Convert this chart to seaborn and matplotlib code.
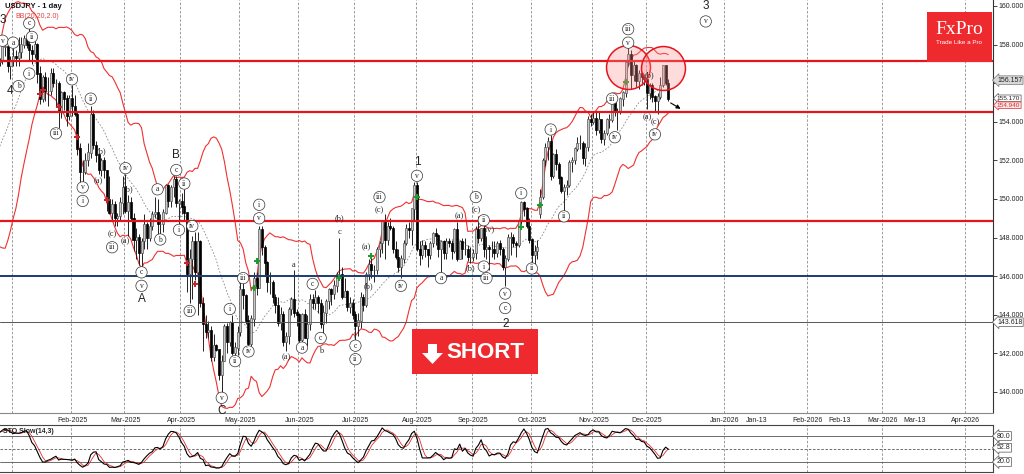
import numpy as np
import pandas as pd
import matplotlib
matplotlib.use("Agg")
import matplotlib.pyplot as plt
from matplotlib.patches import Rectangle, Polygon
from matplotlib.transforms import blended_transform_factory
import seaborn as sns

# daily bars: weekdays from 2024-11-27 to 2025-12-11 (no bar on Dec-25 / Jan-01)
holidays = ["2024-12-25", "2025-01-01"]
dates = pd.bdate_range("2024-11-27", "2025-12-11")
dates = dates[~dates.isin(pd.to_datetime(holidays))]

open_ = [
    153.0, 151.1, 151.6,
    149.8, 149.6, 149.6, 150.6, 150.1, 150.0, 151.2, 151.9, 152.5, 152.6, 153.7, 154.1, 153.5, 154.7, 157.4, 156.4, 157.1, 157.2, 157.9, 157.9, 156.9,
    157.2, 157.4, 157.3, 157.6, 158.0, 158.3, 158.0, 157.7, 157.5, 158.0, 156.5, 155.2, 156.3, 155.6, 155.6, 156.5, 156.0, 156.0, 154.5, 155.5, 155.2, 154.3,
    155.2, 154.8, 154.4, 152.6, 151.4, 151.4, 152.0, 152.4, 154.4, 152.8, 152.3, 151.5, 152.0, 151.5, 150.0, 149.3, 149.7, 149.0, 149.1, 149.8,
    150.6, 149.4, 149.8, 149.0, 147.9, 148.0, 147.2, 147.8, 148.7, 148.0, 148.6, 149.2, 149.3, 148.7, 148.7, 149.3, 150.7, 149.9, 150.6, 151.0, 149.8,
    149.9, 149.6, 149.3, 146.1, 146.9, 147.8, 146.2, 147.8, 144.6, 143.5, 143.1, 143.2, 141.8, 142.4, 142.2, 140.9, 141.6, 143.4, 142.6, 143.6, 142.0, 142.3,
    143.1, 145.3, 145.0, 143.7, 142.5, 143.8, 145.9, 145.4, 148.4, 147.5, 146.7, 145.7, 145.7, 144.9, 144.5, 143.6, 144.0, 142.6, 142.9, 144.3, 144.8, 144.1,
    144.0, 142.7, 144.0, 142.8, 143.5, 144.8, 144.6, 144.9, 144.6, 143.5, 144.1, 144.7, 145.3, 145.1, 145.5, 146.1, 146.1, 144.9, 145.2, 144.4, 144.6,
    144.0, 143.4, 143.7, 144.9, 144.5, 146.1, 146.6, 146.3, 146.3, 147.4, 147.7, 148.9, 147.9, 148.6, 148.5, 147.4, 147.0, 146.5, 146.9, 147.7, 148.5, 148.4, 149.5,
    150.7, 147.4, 147.1, 147.6, 147.4, 147.1, 147.7, 148.2, 148.1, 147.4, 147.8, 147.2, 147.8, 147.7, 147.3, 148.4, 146.9, 147.8, 147.4, 147.4, 147.0,
    147.0, 147.2, 148.4, 148.0, 148.5, 147.4, 147.5, 147.4, 147.4, 147.2, 147.7, 147.4, 146.5, 146.9, 148.0, 148.0, 147.7, 147.6, 148.9, 149.8, 149.5, 148.6,
    147.9, 147.1, 147.3, 149.2, 150.1, 152.0, 152.7, 153.0, 151.2, 152.3, 151.8, 151.1, 150.4, 150.6, 150.7, 151.9, 152.0, 152.6, 152.9, 152.9, 152.1, 152.7, 154.1,
    154.0, 154.2, 153.6, 154.1, 153.1, 153.4, 154.1, 154.1, 155.0, 154.5, 154.5, 155.2, 155.5, 157.1, 157.5, 156.4, 156.9, 156.1, 156.5, 156.3,
    156.2, 155.5, 155.9, 155.3, 155.1, 155.3, 155.9, 156.9, 156.0,
]
high = [
    153.1, 151.9, 151.9,
    150.7, 150.0, 151.2, 150.9, 150.5, 151.3, 152.0, 152.8, 153.1, 153.9, 154.4, 154.2, 155.0, 157.9, 157.9, 157.3, 157.3, 158.0, 158.1, 158.0, 157.4,
    157.8, 157.7, 158.4, 158.4, 158.5, 158.4, 158.9, 158.0, 158.2, 158.1, 156.9, 156.4, 156.6, 156.3, 156.8, 156.8, 156.2, 156.1, 155.6, 155.6, 155.4, 155.4,
    155.9, 155.4, 154.5, 152.9, 152.0, 152.4, 152.9, 154.8, 154.6, 153.0, 152.4, 152.1, 152.2, 151.5, 151.2, 150.0, 149.9, 149.3, 150.1, 151.2,
    151.3, 150.2, 150.1, 149.3, 148.5, 148.2, 148.0, 149.2, 148.8, 149.0, 149.4, 150.1, 150.0, 149.2, 149.5, 150.8, 150.8, 150.7, 151.2, 151.2, 150.0,
    150.3, 150.5, 149.3, 147.4, 148.1, 148.3, 148.3, 147.9, 144.9, 144.0, 143.7, 143.4, 143.0, 142.5, 142.2, 141.9, 143.5, 143.6, 143.7, 144.0, 142.6, 143.4,
    145.9, 146.0, 145.1, 144.0, 144.0, 146.2, 146.2, 148.6, 148.6, 147.6, 146.8, 146.2, 145.8, 145.1, 144.9, 144.4, 144.2, 143.1, 144.4, 144.9, 146.3, 144.3,
    144.1, 144.1, 144.3, 144.0, 145.1, 145.1, 145.3, 145.0, 144.8, 144.5, 144.8, 145.4, 145.4, 145.8, 146.2, 148.0, 146.5, 145.9, 145.3, 144.9, 144.8,
    144.2, 144.1, 145.2, 145.1, 146.2, 146.9, 147.2, 146.6, 147.5, 147.8, 148.9, 149.2, 148.8, 149.0, 148.6, 147.8, 147.4, 147.1, 147.9, 148.7, 148.8, 149.5, 150.9,
    150.9, 147.8, 147.9, 147.8, 147.4, 147.8, 148.3, 148.5, 148.2, 147.9, 147.9, 148.0, 148.0, 147.9, 148.5, 148.8, 147.9, 148.0, 148.0, 147.6, 147.5,
    147.4, 148.6, 149.1, 148.5, 148.8, 148.1, 147.6, 147.8, 147.8, 147.8, 147.9, 147.5, 147.1, 148.2, 148.3, 148.2, 147.8, 148.9, 149.9, 149.9, 149.6, 149.0,
    148.0, 147.6, 147.9, 150.5, 152.1, 152.9, 153.2, 153.3, 152.4, 152.6, 151.9, 151.2, 150.8, 151.0, 152.0, 152.2, 152.7, 153.2, 153.3, 153.0, 152.9, 154.3, 154.4,
    154.5, 154.5, 154.5, 154.1, 153.6, 154.2, 154.4, 155.0, 155.1, 154.7, 155.3, 155.6, 157.2, 157.9, 157.7, 157.2, 157.0, 156.7, 156.6, 156.5,
    156.2, 156.0, 156.0, 155.4, 155.5, 156.3, 156.95, 156.95, 156.2,
]
low = [
    150.5, 151.0, 149.5,
    149.6, 149.1, 149.5, 149.9, 149.4, 149.7, 151.0, 151.6, 152.2, 152.5, 153.6, 153.2, 153.3, 154.4, 156.0, 156.2, 156.9, 157.0, 157.4, 156.6, 156.2,
    156.9, 156.9, 156.9, 157.3, 157.8, 157.8, 157.2, 157.0, 157.3, 156.0, 154.9, 155.0, 155.1, 154.8, 155.4, 155.8, 154.8, 153.7, 154.2, 154.6, 153.8, 154.1,
    154.3, 154.3, 152.3, 150.9, 150.9, 151.3, 151.7, 152.1, 152.6, 151.9, 151.3, 151.2, 151.1, 149.4, 149.2, 148.9, 148.6, 148.6, 148.9, 149.2,
    149.3, 148.1, 148.9, 147.3, 146.9, 146.6, 146.5, 147.4, 147.4, 147.8, 148.4, 149.0, 148.2, 148.2, 148.3, 149.2, 149.6, 149.6, 150.1, 149.6, 148.7,
    149.2, 148.9, 145.2, 144.6, 144.8, 145.8, 144.0, 144.4, 142.1, 142.8, 142.8, 141.6, 141.6, 142.1, 140.6, 139.9, 141.6, 142.0, 142.4, 141.9, 141.7, 141.9,
    142.9, 144.3, 143.5, 142.4, 142.4, 143.4, 145.0, 145.4, 147.1, 146.0, 145.2, 145.1, 144.6, 144.1, 143.4, 143.2, 142.4, 142.1, 142.5, 144.0, 143.9, 143.4,
    142.6, 142.4, 142.8, 142.4, 143.2, 144.3, 144.3, 144.1, 143.3, 142.8, 143.6, 144.3, 144.5, 144.8, 145.2, 146.0, 144.8, 144.9, 144.2, 144.1, 143.8,
    142.7, 142.9, 143.3, 144.2, 144.4, 145.8, 145.9, 145.7, 146.1, 147.0, 147.2, 146.9, 147.6, 148.4, 147.2, 146.9, 146.2, 145.9, 146.7, 147.6, 148.0, 147.6, 148.9,
    147.3, 146.6, 146.9, 147.0, 146.5, 146.9, 147.5, 147.6, 147.0, 146.2, 146.9, 146.9, 147.5, 146.9, 147.2, 146.8, 146.9, 146.9, 147.1, 146.8, 146.7,
    146.8, 146.9, 147.7, 147.8, 147.0, 146.9, 146.3, 147.0, 146.9, 147.0, 147.1, 146.3, 145.5, 146.8, 147.1, 147.5, 147.0, 147.5, 148.7, 149.1, 148.5, 147.7,
    146.6, 146.6, 146.9, 149.0, 150.0, 151.7, 152.0, 151.0, 151.1, 151.5, 150.8, 150.3, 149.4, 150.2, 150.6, 151.4, 151.8, 152.5, 152.6, 151.8, 151.7, 152.5, 153.8,
    153.9, 153.3, 153.4, 152.9, 152.8, 153.3, 153.7, 154.0, 154.3, 153.6, 154.4, 154.8, 155.3, 156.9, 155.7, 156.1, 155.8, 155.7, 155.9, 155.9,
    154.65, 155.2, 155.0, 154.5, 154.4, 155.2, 155.8, 155.9, 155.1,
]
close = [
    151.1, 151.6, 149.8,
    149.6, 149.6, 150.6, 150.1, 150.0, 151.2, 151.9, 152.5, 152.6, 153.7, 154.1, 153.5, 154.7, 157.4, 156.4, 157.1, 157.2, 157.9, 157.9, 156.9, 157.2,
    157.4, 157.3, 157.6, 158.0, 158.3, 158.0, 157.7, 157.5, 158.0, 156.5, 155.2, 156.3, 155.6, 155.6, 156.5, 156.0, 156.0, 154.5, 155.5, 155.2, 154.3, 155.2,
    154.8, 154.4, 152.6, 151.4, 151.4, 152.0, 152.4, 154.4, 152.8, 152.3, 151.5, 152.0, 151.5, 150.0, 149.3, 149.7, 149.0, 149.1, 149.8, 150.6,
    149.4, 149.8, 149.0, 147.9, 148.0, 147.2, 147.8, 148.7, 148.0, 148.6, 149.2, 149.3, 148.7, 148.7, 149.3, 150.7, 149.9, 150.6, 151.0, 149.8, 149.9,
    149.6, 149.3, 146.1, 146.9, 147.8, 146.2, 147.8, 144.6, 143.5, 143.1, 143.2, 141.8, 142.4, 142.2, 140.9, 141.6, 143.4, 142.6, 143.6, 142.0, 142.3, 143.1,
    145.3, 145.0, 143.7, 142.5, 143.8, 145.9, 145.4, 148.4, 147.5, 146.7, 145.7, 145.7, 144.9, 144.5, 143.6, 144.0, 142.6, 142.9, 144.3, 144.8, 144.1, 144.0,
    142.7, 144.0, 142.8, 143.5, 144.8, 144.6, 144.9, 144.6, 143.5, 144.1, 144.7, 145.3, 145.1, 145.5, 146.1, 146.1, 144.9, 145.2, 144.4, 144.6, 144.0,
    143.4, 143.7, 144.9, 144.5, 146.1, 146.6, 146.3, 146.3, 147.4, 147.7, 148.9, 147.9, 148.6, 148.5, 147.4, 147.0, 146.5, 146.9, 147.7, 148.5, 148.4, 149.5, 150.7,
    147.4, 147.1, 147.6, 147.4, 147.1, 147.7, 148.2, 148.1, 147.4, 147.8, 147.2, 147.8, 147.7, 147.3, 148.4, 146.9, 147.8, 147.4, 147.4, 147.0, 147.0,
    147.2, 148.4, 148.0, 148.5, 147.4, 147.5, 147.4, 147.4, 147.2, 147.7, 147.4, 146.5, 146.9, 148.0, 148.0, 147.7, 147.6, 148.9, 149.8, 149.5, 148.6, 147.9,
    147.1, 147.3, 147.5, 150.1, 152.0, 152.7, 153.0, 151.2, 152.3, 151.8, 151.1, 150.4, 150.6, 150.7, 151.9, 152.0, 152.6, 152.9, 152.9, 152.1, 152.7, 154.1, 154.0,
    154.2, 153.6, 154.1, 153.1, 153.4, 154.1, 154.1, 155.0, 154.5, 154.5, 155.2, 155.5, 157.1, 157.5, 156.4, 156.9, 156.1, 156.5, 156.3, 156.2,
    155.5, 155.9, 155.3, 155.1, 155.3, 155.9, 156.9, 156.0, 155.2,
]

# drawn levels
red_levels = [157.15, 154.5, 148.85]
blue_level = 146.0
grey_level = 143.618
price_ticks = [140, 142, 144, 146, 148, 150, 152, 154, 156, 158, 160]

# price tags on the right scale (value, where the tag sits)
tag_values = [156.157, 155.170, 154.940, 143.618]
tag_spots = [156.157, 155.22, 154.86, 143.618]
stoch_tags = [80.0, 52.8, 20.0]

# band-break signal marks
sell_dates = ["2025-01-16", "2025-01-17", "2025-01-27", "2025-02-05", "2025-02-20", "2025-04-03", "2025-04-08"]
sell_prices = [155.45, 155.65, 154.75, 153.2, 149.95, 146.7, 145.6]
buy_dates = ["2025-05-08", "2025-05-09", "2025-06-23", "2025-07-09", "2025-08-01", "2025-09-25", "2025-10-06", "2025-11-19"]
buy_prices = [145.4, 146.8, 145.9, 147.05, 150.1, 148.55, 149.7, 156.05]

# Elliott wave labels: text, date, price, kind (c = circled, p = plain, B = big)
wave_text = ["3", "v", "a", "c", "ii", "i", "b", "4", "iii", "iv", "v", "i", "ii", "(b)", "(a)",
             "iv", "(b)", "(c)", "iii", "(a)", "c", "v", "A", "a", "b", "B", "c", "ii", "i", "iv",
             "iii", "v", "C", "i", "ii", "iii", "iv", "i", "v", "a", "(a)", "a", "c", "c", "b",
             "c", "(b)", "c", "ii", "(a)", "(b)", "(c)", "iii", "iv", "1", "v", "(a)", "a", "(b)",
             "b", "(c)", "ii", "(iv)", "i", "iii", "v", "c", "2", "i", "ii", "i", "ii", "iii", "iv",
             "iii", "v", "(a)", "(b)", "(c)", "iv", "3", "v"]
wave_date = ["2024-12-26", "2024-12-26", "2025-01-02", "2025-01-10", "2025-01-13", "2025-01-10",
             "2025-01-06", "2024-12-31", "2025-01-24", "2025-02-03", "2025-02-07", "2025-02-07",
             "2025-02-12", "2025-02-18", "2025-02-17", "2025-03-03", "2025-03-04", "2025-02-24",
             "2025-02-24", "2025-03-03", "2025-03-11", "2025-03-11", "2025-03-11", "2025-03-19",
             "2025-03-20", "2025-03-28", "2025-03-28", "2025-04-02", "2025-03-31", "2025-04-07",
             "2025-04-04", "2025-04-22", "2025-04-22", "2025-04-25", "2025-04-29", "2025-05-02",
             "2025-05-06", "2025-05-12", "2025-05-12", "2025-05-29", "2025-05-26", "2025-06-03",
             "2025-06-09", "2025-06-12", "2025-06-12", "2025-06-23", "2025-06-23", "2025-07-01",
             "2025-07-01", "2025-07-07", "2025-07-08", "2025-07-14", "2025-07-14", "2025-07-24",
             "2025-08-01", "2025-08-01", "2025-08-25", "2025-08-14", "2025-08-29", "2025-09-02",
             "2025-09-02", "2025-09-05", "2025-09-09", "2025-09-05", "2025-09-08", "2025-09-17",
             "2025-09-17", "2025-09-17", "2025-09-25", "2025-10-01", "2025-10-10", "2025-10-17",
             "2025-11-12", "2025-11-13", "2025-11-20", "2025-11-20", "2025-12-01", "2025-12-02",
             "2025-12-04", "2025-12-04", "2025-12-25", "2025-12-25"]
wave_price = [159.3, 158.2, 158.1, 159.1, 158.4, 156.5, 155.85, 155.6, 153.4, 156.2, 150.6, 149.9,
              155.2, 152.5, 150.9, 151.6, 150.5, 148.2, 147.5, 147.8, 146.2, 145.5, 144.8, 150.5,
              147.9, 152.3, 151.5, 150.8, 148.4, 148.6, 144.2, 139.7, 139.0, 144.3, 141.6, 145.9,
              142.1, 149.7, 149.0, 146.6, 141.8, 142.3, 145.6, 142.8, 142.1, 148.3, 149.0, 142.4,
              141.7, 147.5, 145.5, 149.4, 150.1, 145.5, 151.9, 151.2, 149.1, 145.9, 146.4, 150.1,
              149.4, 148.9, 148.45, 146.5, 145.9, 145.1, 144.35, 143.5, 150.3, 146.4, 153.6, 149.1,
              155.2, 153.2, 158.8, 158.1, 154.25, 156.4, 154.0, 153.35, 160.0, 159.2]
wave_kind = ["B", "c", "c", "c", "c", "c", "c", "B", "c", "c", "c", "c", "c", "p", "p",
             "c", "p", "p", "c", "p", "c", "c", "B", "c", "c", "B", "c", "c", "c", "c",
             "c", "c", "B", "c", "c", "c", "c", "c", "c", "p", "p", "c", "c", "c", "p",
             "p", "p", "c", "c", "p", "p", "p", "c", "c", "B", "c", "p", "c", "p",
             "c", "p", "c", "p", "c", "c", "c", "c", "B", "c", "c", "c", "c", "c", "c",
             "c", "c", "p", "p", "p", "c", "B", "c"]

# highlighted zones (red circles)
zone_dates = ["2025-11-20", "2025-12-09"]
zone_prices = [156.85, 156.8]

month_labels = ["Feb-2025", "Mar-2025", "Apr-2025", "May-2025", "Jun-2025", "Jul-2025", "Aug-2025",
                "Sep-2025", "Oct-2025", "Nov-2025", "Dec-2025", "Jan-2026", "Jan-13", "Feb-2026",
                "Feb-13", "Mar-2026", "Mar-13", "Apr-2026"]
month_dates = ["2025-02-01", "2025-03-01", "2025-04-01", "2025-05-01", "2025-06-01", "2025-07-01",
               "2025-08-01", "2025-09-01", "2025-10-01", "2025-11-01", "2025-12-01", "2026-01-01",
               "2026-01-13", "2026-02-01", "2026-02-13", "2026-03-01", "2026-03-13", "2026-04-01"]
grid_dates = ["2025-01-01", "2025-02-01", "2025-03-01", "2025-04-01", "2025-05-01", "2025-06-01",
              "2025-07-01", "2025-08-01", "2025-09-01", "2025-10-01", "2025-11-01", "2025-12-01",
              "2026-01-01", "2026-02-01", "2026-03-01", "2026-04-01"]

sns.set_theme(style="white")
plt.rcParams['font.family'] = ['Liberation Sans', 'DejaVu Sans']

n = min(len(dates), len(open_), len(high), len(low), len(close))
df = pd.DataFrame({"o": open_[:n], "h": high[:n], "l": low[:n], "c": close[:n]})
df["x"] = np.arange(n)
last_date = dates[n - 1]
last_idx = n - 1


def xpos(d):
    d = pd.Timestamp(d)
    if d <= last_date:
        return float(dates[:n].searchsorted(d))
    return last_idx + (d - last_date).days


# indicators
df["mid"] = df["c"].rolling(20).mean()
sd = df["c"].rolling(20).std(ddof=0)
df["up"] = df["mid"] + 2 * sd
df["dn"] = df["mid"] - 2 * sd
ll = df["l"].rolling(14).min()
hh = df["h"].rolling(14).max()
fast_k = 100 * (df["c"] - ll) / (hh - ll)
df["k"] = fast_k.rolling(3).mean()
df["d"] = df["k"].rolling(3).mean()

W, H = 1024, 474
fig = plt.figure(figsize=(W / 100, H / 100), dpi=100)
fig.patch.set_facecolor("white")
ax = fig.add_axes([0, 1 - 413 / H, 993 / W, 413 / H])
ax2 = fig.add_axes([0, 1 - 472 / H, 993 / W, 47 / H])

px_bar = 2.674
i_feb = xpos("2025-02-03")
x0 = i_feb - 72 / px_bar
x1 = i_feb + (993 - 72) / px_bar
for a in (ax, ax2):
    a.set_xlim(x0, x1)
    a.set_facecolor("white")
ax.set_ylim(160 - 407 / 19.3, 160 + 6 / 19.3)
ax2.set_ylim(-3.1, 105.4)

# month grid
for gd in grid_dates:
    gx = xpos(gd) - 0.5 if pd.Timestamp(gd) <= last_date else xpos(gd)
    for a in (ax, ax2):
        a.axvline(gx, color="#8c8c8c", lw=0.6, ls=(0, (3, 2)), zorder=1)

# bollinger bands
sns.lineplot(data=df, x="x", y="up", ax=ax, color="#f03030", lw=0.8, zorder=2)
sns.lineplot(data=df, x="x", y="dn", ax=ax, color="#f03030", lw=0.8, zorder=2)
sns.lineplot(data=df, x="x", y="mid", ax=ax, color="#888888", lw=0.6, linestyle=(0, (2, 2)), zorder=2)

# candles
rise = df["c"] >= df["o"]
ax.vlines(df["x"], df["l"], df["h"], color="#222222", lw=0.7, zorder=3)
ax.bar(df["x"][rise], (df["c"] - df["o"])[rise] + 0.02, bottom=df["o"][rise], width=0.75,
       color="#c8c8c8", edgecolor="#555555", linewidth=0.5, zorder=4)
ax.bar(df["x"][~rise], (df["o"] - df["c"])[~rise] + 0.02, bottom=df["c"][~rise], width=0.75,
       color="black", edgecolor="black", linewidth=0.5, zorder=4)

# signal marks
ax.scatter([xpos(d) for d in sell_dates], sell_prices, marker="P", s=14, color="#c0282c",
           linewidths=0, zorder=6)
ax.scatter([xpos(d) for d in buy_dates], buy_prices, marker="P", s=14, color="#1e9a2e",
           linewidths=0, zorder=6)

# levels
for lv in red_levels:
    ax.axhline(lv, color="#e8141c", lw=1.6, zorder=5)
ax.axhline(blue_level, color="#1b3c6e", lw=1.4, zorder=5)
ax.axhline(grey_level, color="#555555", lw=0.7, zorder=5)

# highlighted zones
zx = [xpos(d) for d in zone_dates]
ax.scatter(zx, zone_prices, s=1000, facecolor=(1, 0.55, 0.55, 0.3), edgecolor="#e8141c",
           linewidth=1.1, zorder=6)

# projection arrow
ax.annotate("", xy=(last_idx + 5.5, 154.6), xytext=(last_idx, 155.05),
            arrowprops=dict(arrowstyle="-|>", color="black", lw=0.8, mutation_scale=6), zorder=7)

# wave labels
for t, d, p, k in zip(wave_text, wave_date, wave_price, wave_kind):
    xx = xpos(d)
    if k == "c":
        ax.text(xx, p, t, fontsize=5.5, family="Liberation Serif", ha="center", va="center",
                zorder=8, bbox=dict(boxstyle="circle,pad=0.22", fc="white", ec="#333333", lw=0.5))
    elif k == "p":
        ax.text(xx, p, t, fontsize=6, family="Liberation Serif", ha="center", va="center", zorder=8)
    else:
        ax.text(xx, p, t, fontsize=8.5, ha="center", va="center", color="#222222", zorder=8)

# right price axis (the 156 label sits under the price tag)
ax.yaxis.tick_right()
ax.set_yticks(price_ticks)
ax.set_yticklabels(["" if v == 156 else f"{v:.3f}" for v in price_ticks])
ax.tick_params(axis="y", labelsize=5, length=3, width=0.6, pad=1, colors="#222222")
ax.set_xticks([xpos(d) for d in month_dates])
ax.set_xticklabels(month_labels)
ax.tick_params(axis="x", labelsize=5, length=2, width=0.6, pad=1, colors="#222222")
ax.set_xlabel("")
ax.set_ylabel("")
for s in ["left", "top"]:
    ax.spines[s].set_visible(False)
ax.spines["right"].set_color("#333333")
ax.spines["bottom"].set_color("#888888")
for s in ax.spines.values():
    s.set_linewidth(0.8)

tr = blended_transform_factory(ax.transAxes, ax.transData)
tag_styles = [("#d8d8d8", "#222222", "#777777", 5), ("white", "#222222", "#555555", 4.6),
              ("#fde3e3", "#d03030", "#d03030", 4.6), ("white", "#222222", "#555555", 5)]
for v, spot, (fc, tc, ec, fs) in zip(tag_values, tag_spots, tag_styles):
    ax.text(1.004, spot, f"{v:.3f}", transform=tr, fontsize=fs, color=tc, va="center", ha="left",
            clip_on=False, zorder=9,
            bbox=dict(boxstyle="larrow,pad=0.12", fc=fc, ec=ec, lw=0.5))

# stochastic panel
sns.lineplot(data=df, x="x", y="d", ax=ax2, color="#e03030", lw=0.6, zorder=3)
sns.lineplot(data=df, x="x", y="k", ax=ax2, color="black", lw=0.8, zorder=4)
ax2.axhline(80, color="#555555", lw=0.6, zorder=2)
ax2.axhline(20, color="#555555", lw=0.6, zorder=2)
ax2.axhline(50, color="#555555", lw=0.6, ls=(0, (3, 2)), zorder=2)
ax2.set_xticks([])
ax2.yaxis.tick_right()
ax2.set_yticks([20, 80])
ax2.set_yticklabels(["", ""])
ax2.tick_params(axis="y", length=3, width=0.6, colors="#222222")
ax2.set_xlabel("")
ax2.set_ylabel("")
ax2.spines["left"].set_visible(False)
for s in ["top", "bottom", "right"]:
    ax2.spines[s].set_color("#444444")
    ax2.spines[s].set_linewidth(0.8)
tr2 = blended_transform_factory(ax2.transAxes, ax2.transData)
for v in stoch_tags:
    ax2.text(1.004, v, f"{v:.1f}", transform=tr2, fontsize=5, va="center", ha="left", clip_on=False,
             zorder=9, bbox=dict(boxstyle="larrow,pad=0.12", fc="white", ec="#555555", lw=0.5))
ax2.text(0.003, 0.86, "STO Slow(14,3)", transform=ax2.transAxes, fontsize=5, fontweight="bold",
         va="center", ha="left")

# header texts
fig.text(5 / W, 1 - 7 / H, "USDJPY - 1 day", fontsize=5.5, fontweight="bold", va="center",
         ha="left", color="#111111")
fig.text(15 / W, 1 - 16 / H, "BB(20,20,2.0)", fontsize=5, va="center", ha="left", color="#e04040")

# FxPro badge
fig.patches.append(Rectangle((927 / W, 1 - 62 / H), 65 / W, 50 / H, transform=fig.transFigure,
                             fc="#ee2a2e", ec="none", zorder=10))
fig.text(959.5 / W, 1 - 30 / H, "FxPro", fontsize=14, family="Liberation Serif", color="white",
         ha="center", va="center", zorder=11)
fig.text(959.5 / W, 1 - 43 / H, "Trade Like a Pro", fontsize=4.5, color="white",
         ha="center", va="center", zorder=11)

# SHORT badge
fig.patches.append(Rectangle((412 / W, 1 - 374 / H), 126 / W, 45 / H, transform=fig.transFigure,
                             fc="#ee2a2e", ec="none", zorder=10))
arrow_px = [(428, 344), (437, 344), (437, 353), (443, 353), (432.5, 364), (422, 353), (428, 353)]
fig.patches.append(Polygon([(x / W, 1 - y / H) for x, y in arrow_px], closed=True,
                           transform=fig.transFigure, fc="white", ec="none", zorder=11))
fig.text(485 / W, 1 - 353 / H, "SHORT", fontsize=16, fontweight="bold", color="white",
         ha="center", va="center", zorder=11)

fig.savefig("out.png", dpi=100)
